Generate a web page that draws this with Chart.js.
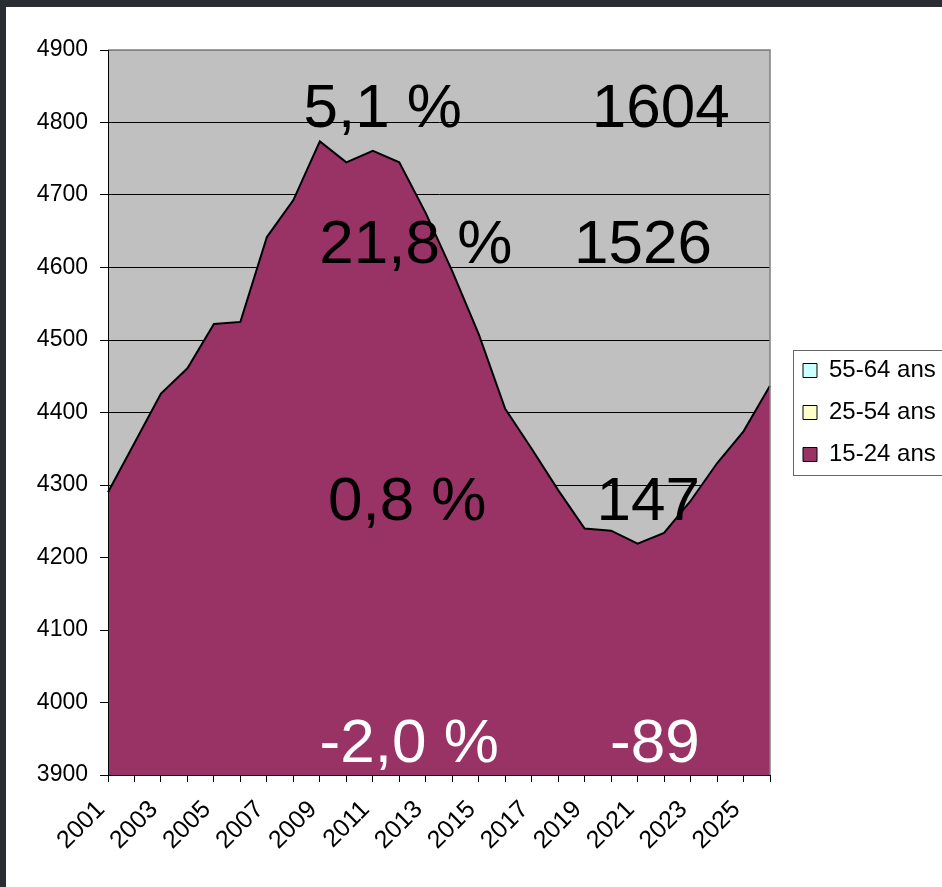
<!DOCTYPE html>
<html>
<head>
<meta charset="utf-8">
<script src="https://cdn.jsdelivr.net/npm/chart.js@4.4.1/dist/chart.umd.min.js"></script>
<style>
  html, body { margin: 0; padding: 0; background: #2a2e33; overflow: hidden; }
  #wrap { position: absolute; left: 6px; top: 7px; width: 936px; height: 880px; background: #fff; }
  canvas { display: block; }
</style>
</head>
<body>
<div id="wrap"><canvas id="grafik" width="936" height="880"></canvas></div>
<script>
// categories (every other one is labelled on the axis)
const years = ["2001","2002","2003","2004","2005","2006","2007","2008","2009","2010",
               "2011","2012","2013","2014","2015","2016","2017","2018","2019","2020",
               "2021","2022","2023","2024","2025","2026"];

// 15-24 ans
const jeunes = [4290, 4358, 4426, 4461, 4522, 4525, 4642, 4693, 4774, 4745,
                4761, 4745, 4675, 4595, 4508, 4405, 4350, 4293, 4240, 4237,
                4219, 4234, 4278, 4330, 4374, 4437];

// the other two series sit above the visible range
const adultes = [];
const seniors = [];

const seriesNames = ["15-24 ans", "25-54 ans", "55-64 ans"];
const yTicks = [3900, 4000, 4100, 4200, 4300, 4400, 4500, 4600, 4700, 4800, 4900];

// texts written over the plot: [text, colour]
const notes = [
    ["5,1 %", "#000"], ["1604", "#000"],
    ["21,8 %", "#000"], ["1526", "#000"],
    ["0,8 %", "#000"], ["147", "#000"],
    ["-2,0 %", "#fff"], ["-89", "#fff"]
];

const FONT = "'Liberation Sans', Arial, sans-serif";

/* ---------- plugins ---------- */
const plotBackground = {
    id: "plotBackground",
    beforeDraw(chart) {
        const { ctx, chartArea: a } = chart;
        ctx.save();
        ctx.fillStyle = "#c0c0c0";
        ctx.fillRect(a.left, a.top, a.right - a.left, a.bottom - a.top);
        ctx.restore();
    }
};

const plotFrame = {
    id: "plotFrame",
    afterDatasetsDraw(chart) {
        const { ctx, chartArea: a } = chart;
        ctx.save();
        ctx.lineWidth = 1.5;
        ctx.strokeStyle = "#808080";
        ctx.beginPath();
        ctx.moveTo(a.left, a.top);
        ctx.lineTo(a.right, a.top);
        ctx.lineTo(a.right, a.bottom);
        ctx.stroke();
        ctx.lineWidth = 1;
        ctx.strokeStyle = "#000";
        ctx.beginPath();
        ctx.moveTo(a.left + 0.5, a.top);
        ctx.lineTo(a.left + 0.5, a.bottom + 0.5);
        ctx.lineTo(a.right, a.bottom + 0.5);
        ctx.stroke();

        // texts over the plot
        const pos = [
            [0.415, 0.106], [0.835, 0.106],
            [0.465, 0.294], [0.808, 0.294],
            [0.452, 0.648], [0.816, 0.648],
            [0.455, 0.982], [0.826, 0.982]
        ];
        const w = a.right - a.left, h = a.bottom - a.top;
        ctx.font = "62px " + FONT;
        ctx.textAlign = "center";
        ctx.textBaseline = "alphabetic";
        notes.forEach(([t, c], i) => {
            ctx.fillStyle = c;
            ctx.fillText(t, a.left + pos[i][0] * w, a.top + pos[i][1] * h);
        });
        ctx.restore();
    }
};

const legendPlace = {
    id: "legendPlace",
    beforeLayout(chart) {
        const lg = chart.legend;
        if (lg && !lg._fixed) {
            const fit = lg.fit.bind(lg);
            lg.fit = function () { fit(); this.width = 172; };
            lg._fixed = true;
        }
    },
    afterLayout(chart) {
        const lg = chart.legend;
        if (lg) { lg.left += 15; lg.right += 15; }
    },
    afterDraw(chart) {
        const lg = chart.legend;
        if (!lg || !lg.legendHitBoxes || !lg.legendHitBoxes.length) return;
        const boxes = lg.legendHitBoxes;
        const top = Math.min(...boxes.map(b => b.top)) - 9;
        const bottom = Math.max(...boxes.map(b => b.top + b.height)) + 8;
        const left = Math.min(...boxes.map(b => b.left)) - 10;
        const { ctx } = chart;
        ctx.save();
        ctx.strokeStyle = "#666";
        ctx.lineWidth = 1;
        ctx.strokeRect(Math.round(left) + 0.5, Math.round(top) + 0.5, 400, Math.round(bottom - top));
        ctx.restore();
    }
};

/* ---------- chart ---------- */
const ctx = document.getElementById("grafik").getContext("2d");

new Chart(ctx, {
    type: "line",
    data: {
        labels: years,
        datasets: [
            {
                label: seriesNames[0],
                data: jeunes,
                borderColor: "#000",
                backgroundColor: "#993366",
                borderWidth: 2,
                pointRadius: 0,
                tension: 0,
                fill: "start"
            },
            {
                label: seriesNames[1],
                data: adultes,
                borderColor: "#000",
                backgroundColor: "#ffffcc",
                borderWidth: 1,
                pointRadius: 0
            },
            {
                label: seriesNames[2],
                data: seniors,
                borderColor: "#000",
                backgroundColor: "#ccffff",
                borderWidth: 1,
                pointRadius: 0
            }
        ]
    },
    options: {
        responsive: false,
        animation: false,
        layout: { padding: { top: 43, left: 0, right: 0, bottom: 0 } },
        plugins: {
            tooltip: { enabled: false },
            legend: {
                position: "right",
                fullSize: false,
                reverse: true,
                labels: {
                    boxWidth: 14,
                    boxHeight: 14,
                    padding: 18,
                    color: "#000",
                    font: { family: FONT, size: 24 },
                    generateLabels: (chart) =>
                        Chart.defaults.plugins.legend.labels.generateLabels(chart).map(it => {
                            it.lineWidth = 1;
                            it.strokeStyle = "#000";
                            return it;
                        })
                }
            }
        },
        scales: {
            x: {
                offset: false,
                grid: {
                    drawOnChartArea: false,
                    drawTicks: true,
                    tickLength: 7,
                    tickColor: "#000"
                },
                border: { color: "#000" },
                ticks: {
                    autoSkip: false,
                    minRotation: 45,
                    maxRotation: 45,
                    padding: 13,
                    labelOffset: -7,
                    color: "#000",
                    font: { family: FONT, size: 25 },
                    callback: (v, i) => (i % 2 === 0 ? years[i] : "")
                },
                afterFit: (s) => { s.height = 112; }
            },
            y: {
                min: yTicks[0],
                max: yTicks[yTicks.length - 1],
                afterBuildTicks: (s) => { s.ticks = yTicks.map(v => ({ value: v })); },
                grid: {
                    color: (c) => (c.tick && c.tick.value === 4900 ? "#808080" : "#000"),
                    lineWidth: 1,
                    tickLength: 8,
                    tickColor: "#000"
                },
                border: { color: "#000" },
                ticks: {
                    padding: 12,
                    color: "#000",
                    font: { family: FONT, size: 23 },
                    callback: (v) => String(v)
                },
                afterFit: (s) => { s.width = 102; }
            }
        }
    },
    plugins: [plotBackground, plotFrame, legendPlace]
});
</script>
</body>
</html>
